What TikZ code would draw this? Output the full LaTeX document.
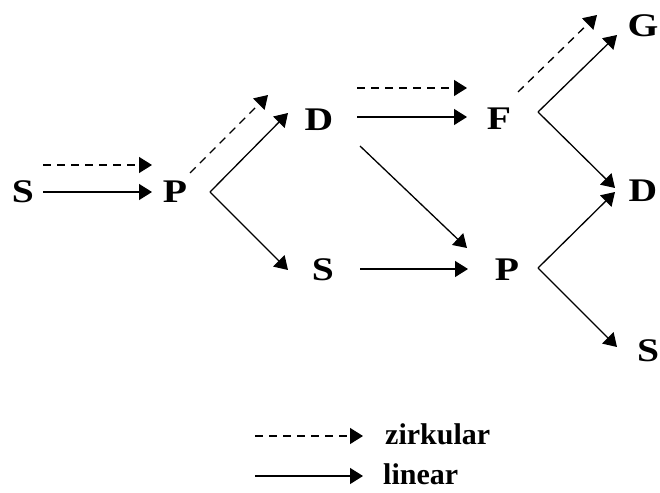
\documentclass[tikz,border=0pt]{standalone}
\usepackage{fontspec}
\setmainfont{Liberation Serif}
\usetikzlibrary{arrows.meta}
% letters of the scheme: bold serif, a little wide
\newcommand{\lbl}[1]{\scalebox{1.2}[1]{\fontsize{33}{33}\selectfont\bfseries #1}}
\newcommand{\legtext}[1]{{\fontsize{30}{30}\selectfont\bfseries #1}}
\tikzset{
  letter/.style={anchor=base, inner sep=0pt},
  legendtext/.style={anchor=base west, inner sep=0pt},
  lin/.style={line width=1.3pt, -{Triangle[length=13pt,width=16pt]}},
  circ/.style={lin, dash pattern=on 8pt off 6pt},
}
\begin{document}
\begin{tikzpicture}[x=1pt,y=-1pt]
  \useasboundingbox[fill=white] (0,0) rectangle (660,492);

  % letters
  \node[letter] (s1) at (23,202) {\lbl{S}};
  \node[letter] (p1) at (175,202) {\lbl{P}};
  \node[letter] (d1) at (319,130) {\lbl{D}};
  \node[letter] (s2) at (323,280) {\lbl{S}};
  \node[letter] (f)  at (499,129) {\lbl{F}};
  \node[letter] (p2) at (507,280) {\lbl{P}};
  \node[letter] (g)  at (643,37)  {\lbl{G}};
  \node[letter] (d2) at (643,201) {\lbl{D}};
  \node[letter] (s3) at (648,361) {\lbl{S}};

  % arrow ends
  \coordinate (s1a) at (43,192);   \coordinate (p1a) at (152,192);
  \coordinate (s1b) at (43,165);   \coordinate (p1b) at (152,165);
  \coordinate (p1o) at (210,192);  \coordinate (d1i) at (288,113);
  \coordinate (p1c) at (190,173);  \coordinate (d1j) at (268,95);
  \coordinate (s2i) at (288,270);
  \coordinate (d1o) at (357,117);  \coordinate (fi)  at (467,117);
  \coordinate (d1c) at (357,88);   \coordinate (fj)  at (467,88);
  \coordinate (d1p) at (360,146);  \coordinate (p2j) at (467,248);
  \coordinate (s2o) at (360,269);  \coordinate (p2i) at (468,269);
  \coordinate (fo)  at (538,112);  \coordinate (gi)  at (617,35);
  \coordinate (fc)  at (518,92);   \coordinate (gj)  at (597,15);
  \coordinate (d2i) at (615,188);  \coordinate (d2j) at (615,192);
  \coordinate (p2o) at (538,268);  \coordinate (s3i) at (617,347);

  % reactions
  \draw[lin]  (s1a) -- (p1a);
  \draw[circ] (s1b) -- (p1b);
  \draw[lin]  (p1o) -- (d1i);
  \draw[circ] (p1c) -- (d1j);
  \draw[lin]  (p1o) -- (s2i);
  \draw[lin]  (d1o) -- (fi);
  \draw[circ] (d1c) -- (fj);
  \draw[lin]  (d1p) -- (p2j);
  \draw[lin]  (s2o) -- (p2i);
  \draw[lin]  (fo)  -- (gi);
  \draw[circ] (fc)  -- (gj);
  \draw[lin]  (fo)  -- (d2i);
  \draw[lin]  (p2o) -- (d2j);
  \draw[lin]  (p2o) -- (s3i);

  % legend
  \coordinate (lca) at (255,436); \coordinate (lcb) at (363,436);
  \coordinate (lla) at (255,476); \coordinate (llb) at (363,476);
  \draw[circ] (lca) -- (lcb);
  \draw[lin]  (lla) -- (llb);
  \node[legendtext] (zirk) at (385,444) {\legtext{zirkular}};
  \node[legendtext] (lin)  at (383,484) {\legtext{linear}};
\end{tikzpicture}
\end{document}
